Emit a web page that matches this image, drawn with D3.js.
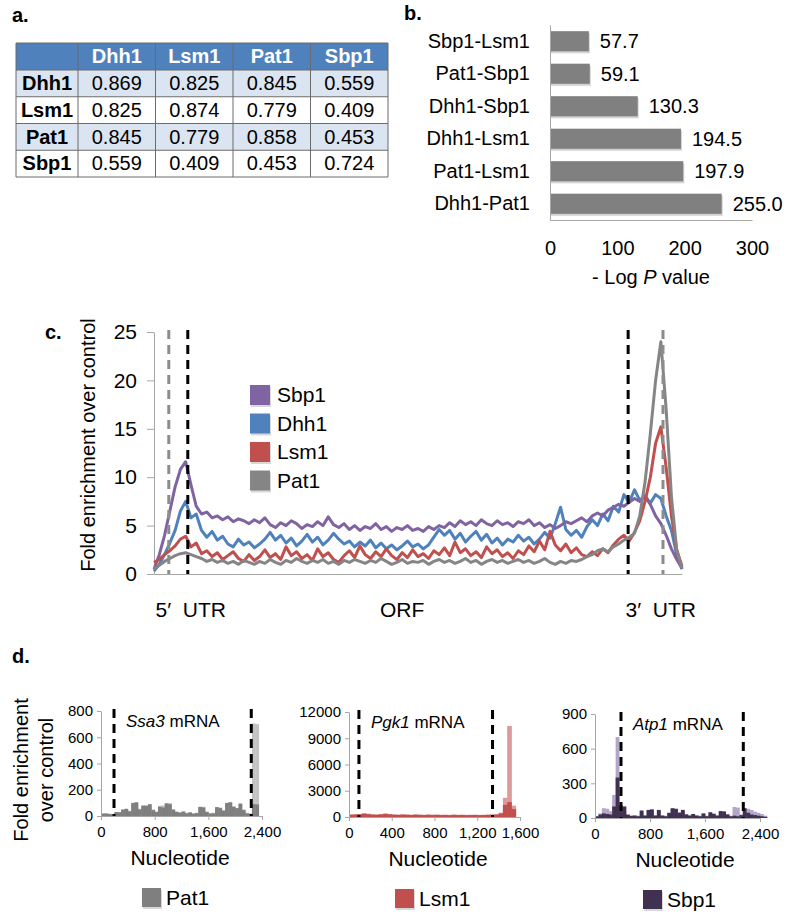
<!DOCTYPE html>
<html>
<head>
<meta charset="utf-8">
<script src="https://cdnjs.cloudflare.com/ajax/libs/d3/7.8.5/d3.min.js"></script>
<style>
  body { margin: 0; background: #fff; }
</style>
</head>
<body>
<div class="container"></div>
<script>
/* ===== DATA ===== */

// a. correlation table
var corrNames = ["Dhh1", "Lsm1", "Pat1", "Sbp1"];
var corrValues = [
  [0.869, 0.825, 0.845, 0.559],
  [0.825, 0.874, 0.779, 0.409],
  [0.845, 0.779, 0.858, 0.453],
  [0.559, 0.409, 0.453, 0.724]
];

// b. overlap significance
var pairNames = ["Sbp1-Lsm1", "Pat1-Sbp1", "Dhh1-Sbp1", "Dhh1-Lsm1", "Pat1-Lsm1", "Dhh1-Pat1"];
var pairLogP = [57.7, 59.1, 130.3, 194.5, 197.9, 255.0];
var bTicks = [0, 100, 200, 300];

// c. metagene profiles (101 bins along 5'UTR - ORF - 3'UTR)
var metaNames = ["Sbp1", "Dhh1", "Lsm1", "Pat1"];
var sbp1Meta = [
  0.5, 2.0, 4.0, 6.5, 9.0, 10.8, 11.6, 9.2, 7.0, 6.2,
  6.4, 5.8, 6.0, 5.6, 5.9, 5.4, 5.7, 5.5, 5.2, 5.6,
  5.3, 5.8, 5.1, 4.8, 5.3, 5.0, 5.5, 5.2, 4.7, 5.1,
  4.9, 5.4, 5.0, 5.9, 5.1, 4.8, 5.2, 4.6, 5.0, 4.5,
  4.9, 4.7, 5.2, 4.6, 4.9, 4.4, 4.8, 4.6, 5.0, 4.5,
  4.7, 4.4, 4.9, 4.6, 5.0, 4.8, 5.3, 4.9, 5.5, 5.1,
  5.4, 5.0, 5.6, 5.2, 5.0, 5.5, 5.1, 5.3, 4.9, 5.4,
  5.2, 5.6, 5.0, 5.3, 4.8, 5.1, 4.7, 5.0, 5.4, 5.2,
  5.5, 5.8, 5.4, 6.0, 6.3, 6.0, 6.6, 6.9, 7.2, 7.0,
  7.4, 7.8, 7.5, 8.0, 7.2, 6.0, 5.2, 4.0, 2.6, 1.5,
  0.6
];
var dhh1Meta = [
  0.3, 1.0, 2.0, 3.2, 4.5, 6.5, 7.5, 5.8, 6.2, 4.5,
  3.8, 4.4, 3.5, 3.9, 3.1, 2.8, 3.6, 3.0, 3.3, 2.7,
  3.1, 3.6, 4.3, 3.5, 4.0, 3.2, 3.7, 2.9, 3.4, 4.1,
  3.3, 3.8, 3.0, 3.5, 4.2, 3.6, 3.1, 3.4, 2.8, 3.3,
  2.9, 3.5, 2.7, 3.2, 2.6, 3.0, 2.5, 2.9, 3.4, 2.8,
  3.1, 2.6, 3.0, 3.8, 4.6, 4.0, 4.5, 3.6, 4.2, 3.3,
  3.9, 4.4, 3.5, 4.1, 3.2, 3.7, 3.0, 3.6, 3.3, 4.0,
  3.4, 3.8, 3.1, 3.6, 4.3, 3.7, 5.2, 6.9, 4.6, 4.0,
  4.5, 3.8, 4.9, 5.6, 5.0, 6.2, 5.5, 7.0, 6.4, 8.2,
  7.4, 8.7, 7.6, 8.1, 7.3, 8.2, 7.8, 6.0, 4.5, 2.0,
  0.5
];
var lsm1Meta = [
  1.2, 1.5, 2.0, 2.4, 2.9, 3.6, 3.9, 2.8, 3.2, 2.1,
  2.4, 1.8, 2.2, 1.5, 1.9, 2.3, 1.6, 1.3, 2.0, 1.4,
  1.8, 2.5, 1.7, 2.1, 1.5, 2.8, 1.9, 2.3, 1.6, 2.0,
  1.4, 2.6, 1.8, 2.2, 1.5, 1.2, 1.9, 2.4, 1.7, 2.9,
  2.0, 1.6, 2.3, 1.8, 2.6, 1.9, 1.5, 2.2, 1.7, 2.5,
  1.8, 2.1, 1.6, 2.4, 2.0, 2.7, 1.9, 3.3, 2.2, 2.6,
  1.9, 2.3, 1.7, 2.8, 2.1, 2.5, 1.8, 2.2, 1.6, 2.4,
  2.0, 2.9, 2.3, 3.4, 2.5, 4.4, 3.0, 2.4, 3.1, 2.2,
  2.7, 2.0, 1.8, 2.3, 1.9, 2.6, 2.2, 3.0, 3.6, 4.0,
  3.4, 4.3, 5.5, 7.5, 10.0, 13.5, 15.2, 11.0, 6.0, 2.5,
  0.8
];
var pat1Meta = [
  0.5, 0.9, 1.3, 1.6, 1.9, 2.1, 2.2, 2.0, 1.8, 1.6,
  1.3, 1.5, 1.2, 1.4, 1.1, 1.3, 1.0, 1.4, 1.2, 1.0,
  1.3, 1.1, 1.5, 1.2, 1.0, 1.4, 1.2, 1.6, 1.3, 1.1,
  1.4, 1.2, 1.5, 1.1, 1.3, 1.0, 1.4, 1.2, 1.5, 1.3,
  1.1, 1.4, 1.2, 1.6, 1.3, 1.0, 1.2, 1.5, 1.1, 1.3,
  1.2, 1.4, 1.0, 1.3, 1.5, 1.2, 1.4, 1.1, 1.3, 1.6,
  1.2, 1.4, 1.0, 1.3, 1.5, 1.2, 1.4, 1.1, 1.3, 1.5,
  1.2, 1.4, 1.1, 1.3, 1.6, 1.2, 1.0, 1.3, 1.1, 1.4,
  1.3, 1.5, 1.8, 2.0, 2.4, 2.6, 2.3, 2.8, 3.1, 3.5,
  3.8, 4.2, 6.0, 9.5, 14.5, 20.0, 24.0, 17.0, 8.0, 2.5,
  0.6
];
var cTicks = [0, 5, 10, 15, 20, 25];
var metaGrayMarks = [2.8, 96.4];   // bin positions of grey dashed lines
var metaBlackMarks = [6.4, 89.8];  // bin positions of black dashed lines
var regionLabels = ["5\u2032  UTR", "ORF", "3\u2032  UTR"];

// d. single transcripts (fold enrichment per bin, dark = sample, light = replicate)
var ssa3Bin = 50;
var ssa3Pat1 = [18, 18, 15, 12, 30, 28, 50, 55, 35, 100, 105, 50, 80, 78, 90, 45, 30, 70, 65, 95,
  90, 50, 30, 25, 35, 20, 28, 18, 22, 70, 65, 30, 18, 20, 68, 60, 40, 100, 105, 70,
  60, 95, 45, 20, 15, 90, 88];
var ssa3Pat1Rep = [20, 22, 18, 15, 25, 30, 45, 50, 40, 90, 95, 55, 75, 80, 85, 50, 35, 78, 80, 100,
  98, 45, 35, 30, 30, 25, 22, 20, 25, 65, 70, 35, 22, 25, 60, 65, 45, 95, 100, 75,
  55, 90, 50, 25, 20, 705, 700];
var ssa3Utr = [194, 2240];
var ssa3XTicks = [0, 800, 1600, 2400];
var ssa3YTicks = [0, 200, 400, 600, 800];

var pgk1Bin = 40;
var pgk1Lsm1 = [250, 280, 300, 380, 320, 270, 250, 300, 360, 300, 260, 240, 270, 250, 230, 260, 240, 220, 250, 230,
  240, 220, 230, 210, 240, 220, 230, 210, 220, 230, 210, 220, 240, 250, 270, 400, 1400, 1700, 900];
var pgk1Lsm1Rep = [300, 330, 350, 420, 380, 320, 300, 340, 400, 340, 300, 280, 310, 290, 270, 300, 280, 260, 290, 270,
  280, 260, 270, 250, 280, 260, 270, 250, 260, 270, 250, 260, 280, 300, 320, 500, 2200, 10400, 1300];
var pgk1Utr = [93, 1343];
var pgk1XTicks = [0, 400, 800, 1200, 1600];
var pgk1YTicks = [0, 3000, 6000, 9000, 12000];

var atp1Bin = 50;
var atp1Sbp1 = [15, 30, 40, 35, 30, 100, 350, 110, 100, 30, 20, 20, 15, 65, 20, 70, 75, 20, 70, 20,
  15, 45, 85, 80, 45, 70, 30, 20, 35, 20, 15, 40, 15, 50, 35, 20, 60, 55, 30, 15,
  20, 15, 25, 85, 45, 30, 25, 20, 15, 10];
var atp1Sbp1Rep = [10, 40, 85, 80, 60, 200, 700, 90, 60, 25, 15, 25, 20, 55, 25, 60, 65, 25, 60, 25,
  20, 40, 75, 70, 50, 60, 35, 25, 30, 25, 20, 35, 20, 45, 40, 25, 50, 60, 35, 20,
  95, 90, 30, 80, 80, 70, 55, 45, 35, 20];
var atp1Utr = [378, 2157];
var atp1XTicks = [0, 800, 1600, 2400];
var atp1YTicks = [0, 300, 600, 900];

/* ===== SET UP ===== */

var FONT = "Arial, 'Liberation Sans', sans-serif";
var AXIS_GREY = '#a6a6a6';

var svg = d3.select('.container')
  .append('svg')
  .attr('width', 800)
  .attr('height', 924)
  .attr('font-family', FONT);

function styleAxis(sel, size) {
  sel.attr('font-family', FONT).attr('font-size', size);
  sel.select('.domain').attr('stroke', AXIS_GREY);
  sel.selectAll('.tick line').attr('stroke', AXIS_GREY);
  sel.selectAll('.tick text').attr('fill', '#000');
}

function panelLabel(txt, x, y) {
  svg.append('text')
    .attr('x', x).attr('y', y)
    .attr('font-size', 20)
    .attr('font-weight', 'bold')
    .text(txt);
}

/* ===== PANEL A: table ===== */

panelLabel('a.', 12, 22);

var ta = svg.append('g');
var colX = d3.scaleBand().domain(corrNames).range([78, 388]);
var rowY = d3.scaleBand().domain(corrNames).range([70, 177]);

ta.append('rect')
  .attr('x', 16).attr('y', 43).attr('width', 372).attr('height', 27)
  .attr('fill', '#4f81bd');

ta.selectAll('.rowbg')
  .data(corrNames)
  .enter()
  .append('rect')
  .attr('x', 16)
  .attr('y', function(d) { return rowY(d); })
  .attr('width', 372)
  .attr('height', rowY.bandwidth())
  .attr('fill', function(d, i) { return i % 2 == 0 ? '#dbe5f1' : '#ffffff'; });

// grid
var vLines = [16, 78].concat(corrNames.map(function(d) { return colX(d) + colX.bandwidth(); }));
ta.selectAll('.vl')
  .data(vLines)
  .enter()
  .append('line')
  .attr('x1', function(d) { return d; }).attr('x2', function(d) { return d; })
  .attr('y1', 43).attr('y2', 177)
  .attr('stroke', '#6b6b6b').attr('stroke-width', 1);
var hLines = [43, 70].concat(corrNames.map(function(d) { return rowY(d) + rowY.bandwidth(); }));
ta.selectAll('.hl')
  .data(hLines)
  .enter()
  .append('line')
  .attr('x1', 16).attr('x2', 388)
  .attr('y1', function(d) { return d; }).attr('y2', function(d) { return d; })
  .attr('stroke', '#6b6b6b').attr('stroke-width', 1);

ta.selectAll('.head')
  .data(corrNames)
  .enter()
  .append('text')
  .attr('x', function(d) { return colX(d) + colX.bandwidth() / 2; })
  .attr('y', 63)
  .attr('text-anchor', 'middle')
  .attr('font-size', 20)
  .attr('font-weight', 'bold')
  .attr('fill', '#fff')
  .text(function(d) { return d; });

ta.selectAll('.rowlab')
  .data(corrNames)
  .enter()
  .append('text')
  .attr('x', 47)
  .attr('y', function(d) { return rowY(d) + 20; })
  .attr('text-anchor', 'middle')
  .attr('font-size', 20)
  .attr('font-weight', 'bold')
  .text(function(d) { return d; });

corrValues.forEach(function(row, r) {
  ta.selectAll('.v' + r)
    .data(row)
    .enter()
    .append('text')
    .attr('x', function(d, c) { return colX(corrNames[c]) + colX.bandwidth() / 2; })
    .attr('y', rowY(corrNames[r]) + 20)
    .attr('text-anchor', 'middle')
    .attr('font-size', 20)
    .text(function(d) { return d3.format('.3f')(d); });
});

/* ===== PANEL B: bars ===== */

panelLabel('b.', 404, 20);

var bx = d3.scaleLinear().domain([0, 300]).range([550, 752]);
var by = d3.scaleBand().domain(pairNames).range([25, 220]).paddingInner(0.38).paddingOuter(0.19);
var gb = svg.append('g');

gb.selectAll('.shadow')
  .data(pairLogP)
  .enter()
  .append('rect')
  .attr('x', bx(0) + 1)
  .attr('y', function(d, i) { return by(pairNames[i]) + 2; })
  .attr('width', function(d) { return bx(d) - bx(0); })
  .attr('height', by.bandwidth())
  .attr('fill', '#d4d4d4');

gb.selectAll('.bar')
  .data(pairLogP)
  .enter()
  .append('rect')
  .attr('x', bx(0))
  .attr('y', function(d, i) { return by(pairNames[i]); })
  .attr('width', function(d) { return bx(d) - bx(0); })
  .attr('height', by.bandwidth())
  .attr('fill', '#808080');

gb.selectAll('.val')
  .data(pairLogP)
  .enter()
  .append('text')
  .attr('x', function(d) { return bx(d) + 11; })
  .attr('y', function(d, i) { return by(pairNames[i]) + by.bandwidth() / 2 + 7; })
  .attr('font-size', 20)
  .text(function(d) { return d3.format('.1f')(d); });

gb.append('g')
  .attr('transform', 'translate(0,220)')
  .call(d3.axisBottom(bx).tickValues(bTicks).tickSize(0).tickSizeOuter(0).tickPadding(21))
  .call(function(s) { styleAxis(s, 20); });

gb.append('g')
  .attr('transform', 'translate(550,0)')
  .call(d3.axisLeft(by).tickSize(0).tickSizeOuter(0).tickPadding(20))
  .call(function(s) { styleAxis(s, 20); });

var bTitle = gb.append('text')
  .attr('x', 651).attr('y', 284)
  .attr('text-anchor', 'middle')
  .attr('font-size', 20);
bTitle.append('tspan').text('- Log ');
bTitle.append('tspan').attr('font-style', 'italic').text('P');
bTitle.append('tspan').text(' value');

/* ===== PANEL C: metagene ===== */

panelLabel('c.', 45, 339);

var cx = d3.scaleLinear().domain([0, 100]).range([154, 682]);
var cy = d3.scaleLinear().domain([0, 25]).range([574, 332]);
var gc = svg.append('g');

gc.append('g')
  .attr('transform', 'translate(154,0)')
  .call(d3.axisLeft(cy).tickValues(cTicks).tickSize(7).tickSizeOuter(0).tickPadding(10))
  .call(function(s) { styleAxis(s, 21); });

gc.append('g')
  .attr('transform', 'translate(0,574)')
  .call(d3.axisBottom(cx).tickValues([]).tickSizeOuter(0))
  .call(function(s) { styleAxis(s, 21); });

gc.append('text')
  .attr('transform', 'translate(95,445) rotate(-90)')
  .attr('text-anchor', 'middle')
  .attr('font-size', 20)
  .text('Fold enrichment over control');

var metaColors = { Sbp1: '#8064a2', Dhh1: '#4f81bd', Lsm1: '#c0504d', Pat1: '#858585' };
var metaData = { Sbp1: sbp1Meta, Dhh1: dhh1Meta, Lsm1: lsm1Meta, Pat1: pat1Meta };
var drawOrder = ["Dhh1", "Sbp1", "Lsm1", "Pat1"];

var metaLine = d3.line()
  .x(function(d, i) { return cx(i); })
  .y(function(d) { return cy(d); });

gc.selectAll('.meta')
  .data(drawOrder)
  .enter()
  .append('path')
  .attr('d', function(d) { return metaLine(metaData[d]); })
  .attr('fill', 'none')
  .attr('stroke', function(d) { return metaColors[d]; })
  .attr('stroke-width', 3)
  .attr('stroke-linejoin', 'round');

gc.selectAll('.gmark')
  .data(metaGrayMarks)
  .enter()
  .append('line')
  .attr('x1', function(d) { return cx(d); }).attr('x2', function(d) { return cx(d); })
  .attr('y1', 330).attr('y2', 574)
  .attr('stroke', '#8c8c8c').attr('stroke-width', 3).attr('stroke-dasharray', '9,6');
gc.selectAll('.bmark')
  .data(metaBlackMarks)
  .enter()
  .append('line')
  .attr('x1', function(d) { return cx(d); }).attr('x2', function(d) { return cx(d); })
  .attr('y1', 330).attr('y2', 574)
  .attr('stroke', '#000').attr('stroke-width', 3).attr('stroke-dasharray', '9,6');

// legend
var leg = gc.selectAll('.leg')
  .data(metaNames)
  .enter()
  .append('g')
  .attr('transform', function(d, i) { return 'translate(250,' + (385 + i * 28.5) + ')'; });
leg.append('rect').attr('x', 1).attr('y', 2).attr('width', 20).attr('height', 20).attr('fill', '#d8d8d8');
leg.append('rect').attr('width', 20).attr('height', 20).attr('fill', function(d) { return metaColors[d]; });
leg.append('text').attr('x', 27).attr('y', 17).attr('font-size', 21).text(function(d) { return d; });

// region labels
var regionX = [0.3, 47, 89.3];
gc.selectAll('.region')
  .data(regionLabels)
  .enter()
  .append('text')
  .attr('x', function(d, i) { return cx(regionX[i]); })
  .attr('y', 617)
  .attr('text-anchor', function(d, i) { return i == 1 ? 'middle' : 'start'; })
  .attr('font-size', 21)
  .style('white-space', 'pre')
  .text(function(d) { return d; });

/* ===== PANEL D: single transcripts ===== */

panelLabel('d.', 12, 663);

var dTitle = svg.append('g').attr('font-size', 20);
dTitle.append('text').attr('transform', 'translate(28,770) rotate(-90)').attr('text-anchor', 'middle').text('Fold enrichment');
dTitle.append('text').attr('transform', 'translate(53,770) rotate(-90)').attr('text-anchor', 'middle').text('over control');

function drawMini(cfg) {
  var x = d3.scaleLinear().domain([0, cfg.xTicks[cfg.xTicks.length - 1]]).range([cfg.left, cfg.right]);
  var y = d3.scaleLinear().domain([0, cfg.yTicks[cfg.yTicks.length - 1]]).range([cfg.bottom, cfg.top]);
  var g = svg.append('g');
  var bw = x(cfg.bin) - x(0);

  g.selectAll('.light')
    .data(cfg.light)
    .enter()
    .append('rect')
    .attr('x', function(d, i) { return x(i * cfg.bin); })
    .attr('y', function(d) { return y(d); })
    .attr('width', bw + 0.4)
    .attr('height', function(d) { return cfg.bottom - y(d); })
    .attr('fill', cfg.lightColor);

  g.selectAll('.dark')
    .data(cfg.dark)
    .enter()
    .append('rect')
    .attr('x', function(d, i) { return x(i * cfg.bin); })
    .attr('y', function(d) { return y(d); })
    .attr('width', bw + 0.4)
    .attr('height', function(d) { return cfg.bottom - y(d); })
    .attr('fill', cfg.darkColor);

  g.append('g')
    .attr('transform', 'translate(' + cfg.left + ',0)')
    .call(d3.axisLeft(y).tickValues(cfg.yTicks).tickSize(4).tickSizeOuter(0).tickPadding(4).tickFormat(d3.format('d')))
    .call(function(s) { styleAxis(s, 15); });

  g.append('g')
    .attr('transform', 'translate(0,' + cfg.bottom + ')')
    .call(d3.axisBottom(x).tickValues(cfg.xTicks).tickSize(4).tickSizeOuter(0).tickPadding(6).tickFormat(d3.format(',')))
    .call(function(s) { styleAxis(s, 15); });

  g.selectAll('.utr')
    .data(cfg.utr)
    .enter()
    .append('line')
    .attr('x1', function(d) { return x(d); }).attr('x2', function(d) { return x(d); })
    .attr('y1', cfg.top - 2).attr('y2', cfg.bottom)
    .attr('stroke', '#000').attr('stroke-width', 3).attr('stroke-dasharray', '9,6');

  var t = g.append('text')
    .attr('x', x(cfg.utr[0]) + 12)
    .attr('y', cfg.top + 16)
    .attr('font-size', 17);
  t.append('tspan').attr('font-style', 'italic').text(cfg.gene);
  t.append('tspan').text(' mRNA');

  g.append('text')
    .attr('x', cfg.labelX)
    .attr('y', cfg.bottom + 49)
    .attr('text-anchor', 'middle')
    .attr('font-size', 21)
    .text('Nucleotide');

  var lg = g.append('g').attr('transform', 'translate(' + cfg.legendX + ',' + (cfg.bottom + 72) + ')');
  lg.append('rect').attr('x', 1).attr('y', 2).attr('width', 19).attr('height', 19).attr('fill', '#d8d8d8');
  lg.append('rect').attr('width', 19).attr('height', 19).attr('fill', cfg.darkColor);
  lg.append('text').attr('x', 24).attr('y', 17).attr('font-size', 21).text(cfg.legend);
}

drawMini({
  gene: 'Ssa3', legend: 'Pat1', bin: ssa3Bin, dark: ssa3Pat1, light: ssa3Pat1Rep,
  darkColor: '#7f7f7f', lightColor: '#c3c3c3', utr: ssa3Utr,
  xTicks: ssa3XTicks, yTicks: ssa3YTicks,
  left: 101, right: 262, top: 711, bottom: 816, labelX: 180, legendX: 142
});
drawMini({
  gene: 'Pgk1', legend: 'Lsm1', bin: pgk1Bin, dark: pgk1Lsm1, light: pgk1Lsm1Rep,
  darkColor: '#c0504d', lightColor: '#dc9b99', utr: pgk1Utr,
  xTicks: pgk1XTicks, yTicks: pgk1YTicks,
  left: 349, right: 520, top: 712, bottom: 817, labelX: 438, legendX: 395
});
drawMini({
  gene: 'Atp1', legend: 'Sbp1', bin: atp1Bin, dark: atp1Sbp1, light: atp1Sbp1Rep,
  darkColor: '#403151', lightColor: '#b4a6c8', utr: atp1Utr,
  xTicks: atp1XTicks, yTicks: atp1YTicks,
  left: 595, right: 760, top: 714, bottom: 818, labelX: 685, legendX: 643
});
</script>
</body>
</html>
